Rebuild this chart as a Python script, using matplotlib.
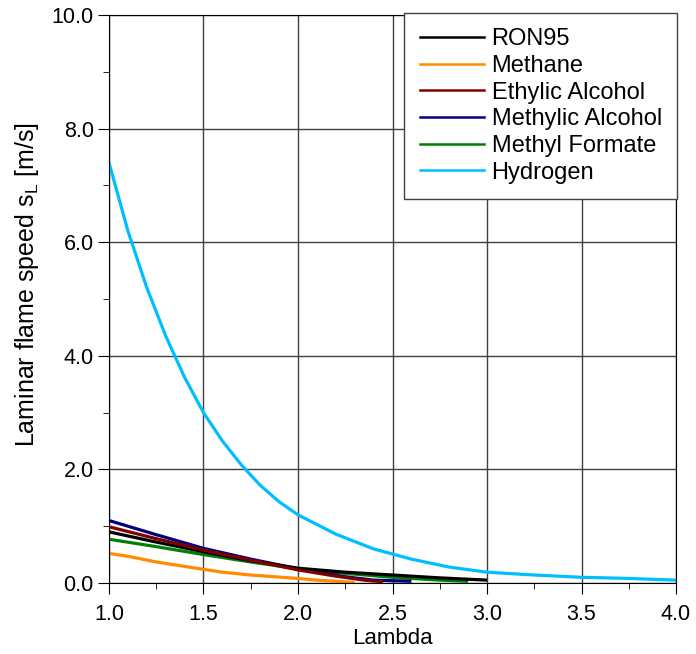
import numpy as np
import matplotlib.pyplot as plt
from matplotlib.ticker import MultipleLocator
from matplotlib.lines import Line2D

plt.rcParams['font.family'] = ['Liberation Sans', 'DejaVu Sans']

# data (lambda, s_L in m/s)
ron95_x = [1.0, 1.25, 1.5, 1.75, 2.0, 2.25, 2.5, 2.75, 3.0]
ron95_y = [0.90, 0.72, 0.55, 0.39, 0.26, 0.19, 0.14, 0.09, 0.05]

methane_x = [1.0, 1.1, 1.25, 1.5, 1.6, 1.75, 2.0, 2.1, 2.2, 2.3]
methane_y = [0.52, 0.47, 0.37, 0.24, 0.19, 0.14, 0.08, 0.05, 0.03, 0.01]

ethylic_x = [1.0, 1.25, 1.5, 1.75, 2.0, 2.2, 2.35, 2.45]
ethylic_y = [0.99, 0.78, 0.58, 0.40, 0.23, 0.12, 0.05, 0.02]

methylic_x = [1.0, 1.25, 1.5, 1.75, 2.0, 2.25, 2.4, 2.6]
methylic_y = [1.10, 0.85, 0.61, 0.42, 0.25, 0.11, 0.05, 0.03]

formate_x = [1.0, 1.25, 1.5, 1.75, 2.0, 2.25, 2.5, 2.75, 2.9]
formate_y = [0.77, 0.64, 0.50, 0.37, 0.25, 0.17, 0.10, 0.05, 0.03]

hydrogen_x = [1.0, 1.1, 1.2, 1.3, 1.4, 1.5, 1.6, 1.7, 1.8, 1.9, 2.0, 2.2,
              2.4, 2.6, 2.8, 3.0, 3.25, 3.5, 3.75, 4.0]
hydrogen_y = [7.40, 6.20, 5.20, 4.35, 3.62, 3.00, 2.50, 2.08, 1.72, 1.43,
              1.20, 0.86, 0.60, 0.42, 0.28, 0.19, 0.14, 0.10, 0.08, 0.05]

names = ['RON95', 'Methane', 'Ethylic Alcohol', 'Methylic Alcohol',
         'Methyl Formate', 'Hydrogen']
colors = ['#000000', '#FF8C00', '#800000', '#000080', '#008000', '#00BFFF']
series = [(ron95_x, ron95_y), (methane_x, methane_y), (ethylic_x, ethylic_y),
          (methylic_x, methylic_y), (formate_x, formate_y),
          (hydrogen_x, hydrogen_y)]

fig = plt.figure(figsize=(6.96, 6.54), dpi=100)
ax = fig.add_axes([0.1566, 0.1086, 0.8147, 0.8684])

# draw in an order so the overlap matches the original
order = [4, 1, 3, 0, 2, 5]
for i in order:
    xs, ys = series[i]
    ax.plot(xs, ys, color=colors[i], linewidth=2.3, solid_capstyle='butt')

ax.set_xlim(1.0, 4.0)
ax.set_ylim(0, 10)
ax.xaxis.set_major_locator(MultipleLocator(0.5))
ax.xaxis.set_minor_locator(MultipleLocator(0.25))
ax.yaxis.set_major_locator(MultipleLocator(2.0))
ax.yaxis.set_minor_locator(MultipleLocator(1.0))
ax.xaxis.set_major_formatter(plt.FormatStrFormatter('%.1f'))
ax.yaxis.set_major_formatter(plt.FormatStrFormatter('%.1f'))
ax.tick_params(which='both', direction='out', labelsize=15.5)
ax.tick_params(which='major', length=8)
ax.tick_params(which='minor', length=4)
ax.tick_params(axis='y', which='major', pad=3)
ax.tick_params(axis='x', which='major', pad=7)
ax.grid(True, which='major', color='#404040', linewidth=1.0)
ax.set_axisbelow(True)

ax.set_xlabel('Lambda', fontsize=16, labelpad=2)
ax.set_ylabel('Laminar flame speed s$_\\mathregular{L}$ [m/s]', fontsize=18)
ax.yaxis.set_label_coords(-0.12, 0.525)

handles = [Line2D([0], [0], color=c, linewidth=1.8) for c in colors]
leg = ax.legend(handles, names, loc='upper right', fontsize=17,
                frameon=True, fancybox=False, framealpha=1,
                borderaxespad=0.0, handlelength=2.7, labelspacing=0.2,
                borderpad=0.65, handletextpad=0.34,
                bbox_to_anchor=(1.002, 1.004))
leg.get_frame().set_edgecolor('#404040')
leg.get_frame().set_linewidth(1.0)

fig.savefig('out.png', dpi=100)
